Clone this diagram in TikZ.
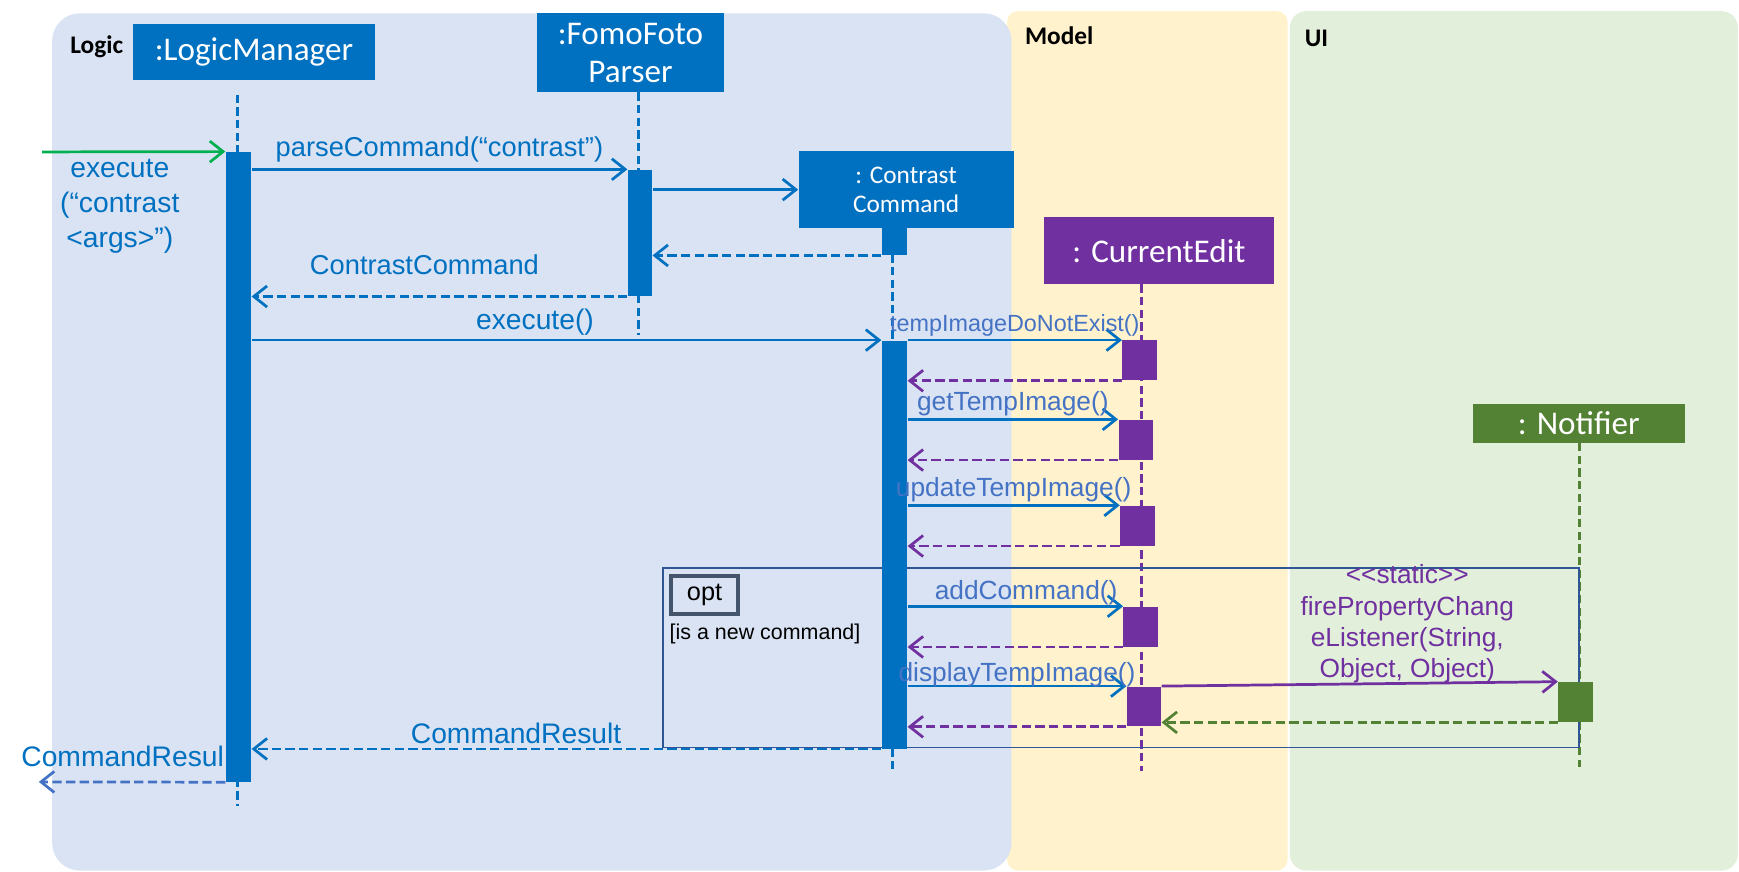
\documentclass[tikz,border=0pt]{standalone}
\usepackage{fontspec}
\setmainfont{Liberation Sans}
\newfontfamily\calibri{Carlito}
\usepackage{tikz}
\usetikzlibrary{arrows.meta, positioning, calc}
\definecolor{LogicBlue}{HTML}{0070C0}
\definecolor{MsgBlue}{HTML}{4472C4}
\definecolor{EditPurple}{HTML}{7030A0}
\definecolor{NoteGreen}{HTML}{548235}
\definecolor{FoundGreen}{HTML}{00B050}
\definecolor{FrameBlue}{HTML}{2F5597}
\definecolor{TagGray}{HTML}{44546A}
\definecolor{LogicBg}{HTML}{DAE3F3}
\definecolor{ModelBg}{HTML}{FFF2CC}
\definecolor{UiBg}{HTML}{E2EFDA}

\begin{document}
\begin{tikzpicture}[
    x=0.02cm, y=-0.02cm,
    head/.style={fill=#1, text=white, inner sep=0pt, align=center,
                 font=\calibri\fontsize{17}{19.5}\selectfont},
    bar/.style={fill=#1, inner sep=0pt, minimum width=4.6mm},
    bar/.default=LogicBlue,
    ebar/.style={fill=#1, inner sep=0pt, minimum width=6.2mm, minimum height=7.2mm},
    ebar/.default=EditPurple,
    life/.style={#1, line width=1.4pt, dash pattern=on 4.3pt off 2.2pt},
    call/.style={-{Straight Barb[length=2.4mm, width=3.8mm]}, line width=1.4pt, #1},
    call/.default=LogicBlue,
    ret/.style={-{Straight Barb[length=2.4mm, width=3.8mm]}, line width=1.4pt,
                dash pattern=on 4.8pt off 2.2pt, #1},
    ret/.default=LogicBlue,
    lbl/.style={font=\fontsize{14}{18}\selectfont, text=LogicBlue, inner sep=2pt},
    elbl/.style={font=\fontsize{13.5}{16}\selectfont, text=MsgBlue, inner sep=1pt},
    lane/.style={font=\calibri\bfseries\fontsize{13}{15}\selectfont, inner sep=1pt},
]
\useasboundingbox (0,0) rectangle (1568,786);

% Swimlanes
\fill[ModelBg, rounded corners=0.2cm] (908,10) rectangle (1161,785);
\fill[UiBg, rounded corners=0.3cm] (1163,10) rectangle (1567,785);
\fill[LogicBg, rounded corners=0.5cm] (47,12) rectangle (912,785);
\node[lane] (model) at (955,32) {Model};
\node[lane] (ui)    at (1187,35) {UI};

% Lifeline heads
\node[head=LogicBlue, minimum width=4.36cm, minimum height=1cm]    (lm) at (229,47)     {:LogicManager};
\node[head=LogicBlue, minimum width=3.38cm, minimum height=1.42cm] (fp) at (568.5,47.5) {:FomoFoto\\Parser};
\node[head=LogicBlue, minimum width=3.88cm, minimum height=1.4cm,
      font=\calibri\fontsize{13}{15}\selectfont]                   (cc) at (817,171)    {: Contrast\\Command};
\node[head=EditPurple, minimum width=4.16cm, minimum height=1.2cm] (ce) at (1045,226)   {: CurrentEdit};
\node[head=NoteGreen, minimum width=3.82cm, minimum height=0.7cm]  (nt) at (1423.5,381.5) {: Notifier};
\node[lane, left=1.3mm of lm, yshift=1mm] (logic) {Logic};

% Lifelines
\coordinate (lmend) at (214,727);
\coordinate (fpend) at (576,302);
\coordinate (ccend) at (805,693);
\coordinate (ceend) at (1029,695);
\coordinate (ntend) at (1424,692);
\draw[life=LogicBlue]  ($(lmend |- lm.south)+(0,13)$) -- (lmend);
\draw[life=LogicBlue]  (fpend |- fp.south) -- (fpend);
\draw[life=LogicBlue]  (ccend |- cc.south) -- (ccend);
\draw[life=EditPurple] (ceend |- ce.south) -- (ceend);
\draw[life=NoteGreen]  (ntend |- nt.south) -- (ntend);

% opt fragment
\coordinate (optnw) at (598,512);
\coordinate (optse) at (1424,674);
\draw[FrameBlue, line width=0.9pt] (optnw) rectangle (optse);
\node[draw=TagGray, line width=2pt, minimum width=1.2cm, minimum height=0.68cm, inner sep=0pt,
      anchor=north west, font=\fontsize{13}{15}\selectfont] (opttag) at ($(optnw)+(5.5,5.5)$) {opt};
\node[anchor=west, inner sep=2pt, font=\fontsize{11}{13}\selectfont] (guard) at (600,572) {[is a new command]};

% Activation bars
\node[bar, minimum height=11.36cm] (lmbar)  at (215,421)   {};
\node[bar, minimum height=2.28cm, minimum width=4.4mm] (fpbar) at (577,210) {};
\node[bar, minimum height=4.8mm]   (ccstub) at (806.5,218) {};
\node[bar, minimum height=7.36cm]  (ccbar)  at (806.5,491) {};
\node[ebar] (ce1) at (1027.5,325) {};
\node[ebar] (ce2) at (1024,396.5) {};
\node[ebar] (ce3) at (1025.5,474) {};
\node[ebar] (ce4) at (1028.5,565) {};
\node[ebar] (ce5) at (1031.5,637) {};
\node[ebar=NoteGreen] (ntbar) at (1420.5,633) {};

% Messages
\coordinate (caller) at (38,137);
\draw[call=FoundGreen] (caller) -- (lmbar.north west);
\node[lbl, align=center, font=\fontsize{14.5}{18}\selectfont] (arglbl) at (108,186) {execute\\(“contrast\\<args>”)};
\draw[call] (lmbar.east |- fpbar.north) -- node[lbl, above, yshift=1pt] {parseCommand(“contrast”)} (fpbar.north west);
\draw[call] (fpbar.east |- cc.west) -- (cc.west);
\draw[ret]  (ccstub.south west) -- (fpbar.east |- ccstub.south);
\draw[ret]  (fpbar.south west) -- node[lbl, above=3mm, pos=.54] {ContrastCommand} (lmbar.east |- fpbar.south);
\draw[call] (lmbar.east |- ccbar.north) -- node[lbl, above, pos=.45, font=\fontsize{14.5}{18}\selectfont] {execute()} (ccbar.north west);

\draw[call] (ccbar.east |- ce1.north) -- node[elbl, above, font=\fontsize{12}{14}\selectfont] {tempImageDoNotExist()} (ce1.north west);
\draw[ret=EditPurple] (ce1.south west) -- (ccbar.east |- ce1.south);
\draw[call] (ccbar.east |- ce2.north) -- node[elbl, above] {getTempImage()} (ce2.north west);
\draw[ret=EditPurple] (ce2.south west) -- (ccbar.east |- ce2.south);
\draw[call] (ccbar.east |- ce3.north) -- node[elbl, above] {updateTempImage()} (ce3.north west);
\draw[ret=EditPurple] (ce3.south west) -- (ccbar.east |- ce3.south);
\draw[call] (ccbar.east |- ce4.north) -- node[elbl, above, pos=.55, yshift=-1pt] {addCommand()} (ce4.north west);
\draw[ret=EditPurple] (ce4.south west) -- (ccbar.east |- ce4.south);
\draw[call] (ccbar.east |- ce5.north) -- node[elbl, above, yshift=-2pt] {displayTempImage()} (ce5.north west);

\draw[call=EditPurple] (ce5.north east) -- node[elbl, above, pos=.62, yshift=-1.5pt, align=center, text=EditPurple]
    {<\kern0pt<static>\kern0pt>\\firePropertyChang\\eListener(String,\\Object, Object)} (ntbar.north west);
\draw[ret=NoteGreen]  (ntbar.south west) -- (ce5.east |- ntbar.south);
\draw[ret=EditPurple] (ce5.south west) -- (ccbar.east |- ce5.south);

\draw[ret] (ccbar.south west) -- node[lbl, above, pos=.58, font=\fontsize{14.5}{18}\selectfont] {CommandResult} (lmbar.east |- ccbar.south);
\coordinate (back) at (35,705);
\draw[ret=MsgBlue] (lmbar.south west) -- node[lbl, pos=0, anchor=south east, inner sep=0pt, yshift=7pt,
    font=\fontsize{14.5}{18}\selectfont] {CommandResul} (back);
\end{tikzpicture}
\end{document}
